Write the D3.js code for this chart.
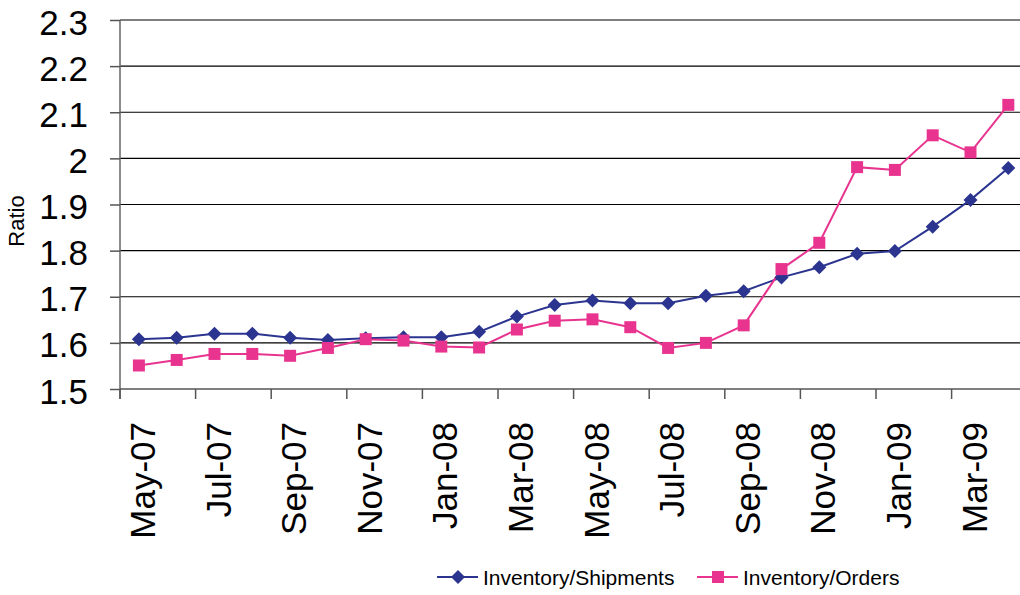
<!DOCTYPE html>
<html>
<head>
<meta charset="utf-8">
<script src="https://cdn.jsdelivr.net/npm/d3@7"></script>
<style>
  html, body { margin: 0; padding: 0; background: #fff; }
  svg { display: block; font-family: "Liberation Sans", Arial, sans-serif; }
</style>
</head>
<body>
<svg id="chart" width="1020" height="595"></svg>
<script>
// Monthly categories
const months = ["May-07","Jun-07","Jul-07","Aug-07","Sep-07","Oct-07","Nov-07","Dec-07",
  "Jan-08","Feb-08","Mar-08","Apr-08","May-08","Jun-08","Jul-08","Aug-08","Sep-08","Oct-08",
  "Nov-08","Dec-08","Jan-09","Feb-09","Mar-09","Apr-09"];

// Inventory / Shipments ratio
const shipments = [1.608,1.611,1.620,1.620,1.611,1.606,1.610,1.612,1.612,1.624,1.657,1.682,
  1.692,1.686,1.686,1.702,1.712,1.742,1.764,1.793,1.799,1.852,1.910,1.979];

// Inventory / Orders ratio
const orders = [1.551,1.563,1.576,1.576,1.572,1.589,1.608,1.605,1.592,1.590,1.629,1.648,
  1.651,1.634,1.589,1.600,1.638,1.760,1.817,1.981,1.975,2.050,2.013,2.116];

const yTicks = [1.5,1.6,1.7,1.8,1.9,2.0,2.1,2.2,2.3];
const yTickLabels = ["1.5","1.6","1.7","1.8","1.9","2","2.1","2.2","2.3"];
const xLabels = months.filter((m, i) => i % 2 === 0);

const seriesNames = ["Inventory/Shipments", "Inventory/Orders"];
const seriesColors = ["#2B3590", "#E8348F"];

const svg = d3.select("#chart");
const plotLeft = 120, plotTop = 20, plotBottom = 389, plotRight = 1020;
const step = 37.8;

const x = d3.scaleBand().domain(months).range([plotLeft, plotLeft + step * months.length]).padding(0);
const y = d3.scaleLinear().domain([1.5, 2.3]).range([plotBottom, plotTop]);

// Horizontal grid lines
svg.append("g").selectAll("line")
  .data(yTicks.slice(1))
  .join("line")
  .attr("x1", plotLeft).attr("x2", plotRight)
  .attr("y1", d => y(d)).attr("y2", d => y(d))
  .attr("stroke", "#000").attr("stroke-width", 1.2);

// Y axis
const yAxis = d3.axisLeft(y)
  .tickValues(yTicks)
  .tickFormat((d, i) => yTickLabels[i])
  .tickSize(10)
  .tickPadding(22);
const gy = svg.append("g").attr("transform", `translate(${plotLeft},0)`).call(yAxis);
gy.select(".domain").attr("stroke", "#666").attr("stroke-width", 1.5)
  .attr("d", `M0,${plotTop}V${plotBottom + 10}`);
gy.selectAll(".tick line").attr("stroke", "#555").attr("stroke-width", 1.5);
gy.selectAll(".tick text").attr("font-size", 35).attr("fill", "#000").attr("dy", "0.4em")
  .attr("font-family", "'Liberation Sans', Arial, sans-serif");

// X axis line and ticks at every other month boundary
const gx = svg.append("g");
gx.append("line")
  .attr("x1", plotLeft).attr("x2", plotRight).attr("y1", plotBottom).attr("y2", plotBottom)
  .attr("stroke", "#555").attr("stroke-width", 1.5);
gx.selectAll("line.tk")
  .data(xLabels)
  .join("line").attr("class", "tk")
  .attr("x1", d => x(d)).attr("x2", d => x(d))
  .attr("y1", plotBottom).attr("y2", plotBottom + 10)
  .attr("stroke", "#555").attr("stroke-width", 1.5);
gx.selectAll("text")
  .data(xLabels)
  .join("text")
  .attr("transform", d => `translate(${x(d) + x.bandwidth() / 2 + 16},${plotBottom + 33}) rotate(-90)`)
  .attr("text-anchor", "end")
  .attr("font-size", 35)
  .attr("fill", "#000")
  .text(d => d);

// Y axis title
svg.append("text")
  .attr("transform", "translate(24,221) rotate(-90)")
  .attr("text-anchor", "middle")
  .attr("font-size", 22)
  .text("Ratio");

// Lines
const cx = d => x(d) + x.bandwidth() / 2;
const line = d3.line().x(d => cx(d.m)).y(d => y(d.v));
const data = [
  months.map((m, i) => ({ m, v: shipments[i] })),
  months.map((m, i) => ({ m, v: orders[i] }))
];

// Marker shapes: a square turned 45 degrees and a plain square
const diamond = "M0,-7L7,0L0,7L-7,0Z";
const square = d3.symbol().type(d3.symbolSquare).size(144)();

data.forEach((s, k) => {
  svg.append("path")
    .datum(s)
    .attr("d", line)
    .attr("fill", "none")
    .attr("stroke", seriesColors[k])
    .attr("stroke-width", 2);
});
data.forEach((s, k) => {
  svg.append("g").selectAll("path")
    .data(s)
    .join("path")
    .attr("transform", d => `translate(${cx(d.m)},${y(d.v)})`)
    .attr("d", k === 0 ? diamond : square)
    .attr("fill", seriesColors[k]);
});

// Legend
const legendItems = [
  { x: 437, sym: diamond },
  { x: 697, sym: square }
];
const lg = svg.append("g").attr("transform", "translate(0,577)");
legendItems.forEach((it, k) => {
  lg.append("line")
    .attr("x1", it.x).attr("x2", it.x + 41).attr("y1", 0).attr("y2", 0)
    .attr("stroke", seriesColors[k]).attr("stroke-width", 2);
  lg.append("path")
    .attr("transform", `translate(${it.x + 21},0)`)
    .attr("d", it.sym)
    .attr("fill", seriesColors[k]);
  lg.append("text")
    .attr("x", it.x + 46).attr("y", 8)
    .attr("font-size", 21)
    .text(seriesNames[k]);
});
</script>
</body>
</html>
